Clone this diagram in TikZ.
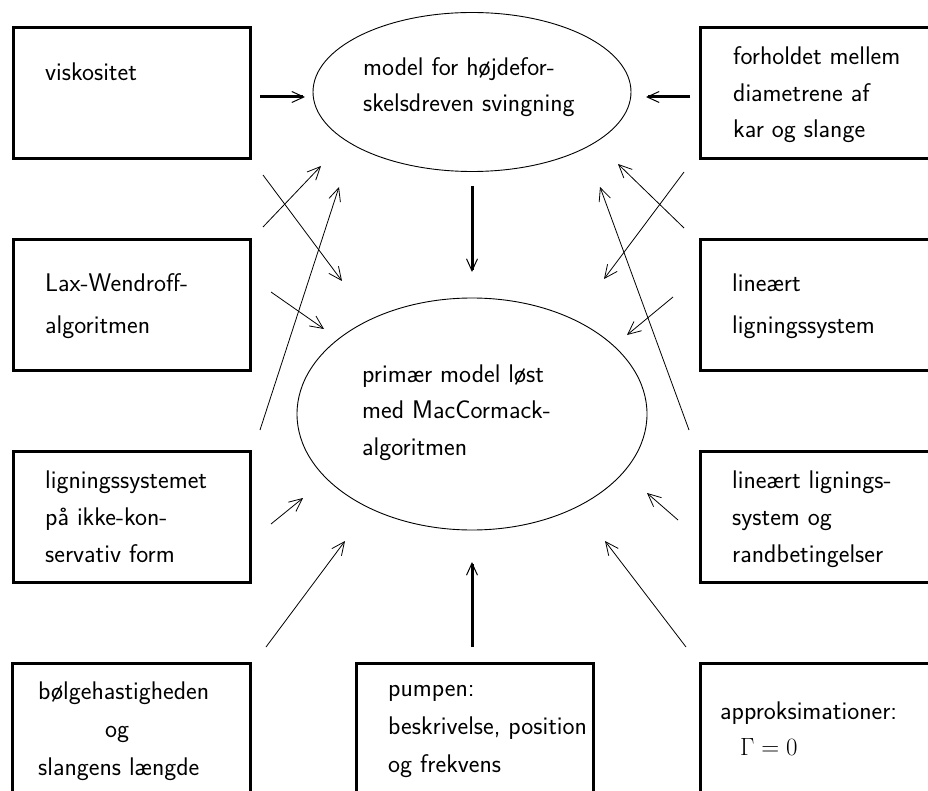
\documentclass[tikz,border=0pt]{standalone}
\usepackage{fontspec}
\usetikzlibrary{arrows.meta,shapes.geometric}
\begin{document}
\begin{tikzpicture}[x=1pt,y=-1pt,
  box/.style={draw, line width=3pt, rectangle, inner sep=0pt},
  oval/.style={draw, line width=0.9pt, ellipse, inner sep=0pt},
  lbl/.style={anchor=base west, inner sep=0pt, font=\sffamily\fontsize{25.5}{30}\selectfont\addfontfeatures{LetterSpace=2}},
  thinarrow/.style={line width=0.8pt, -{Straight Barb[length=13pt,width=12pt]}},
  thickarrow/.style={line width=3pt, -{Straight Barb[length=12pt,width=11pt,line width=1pt 0]}}]
\clip (0,0) rectangle (928,791);
\fill[white] (0,0) rectangle (928,791);

% boxes, left column
\node[box, minimum width=236.5pt, minimum height=131pt] (bvis) at (131.75,93.5) {};
\node[box, minimum width=236.5pt, minimum height=131pt] (blax) at (131.75,305) {};
\node[box, minimum width=236.5pt, minimum height=131pt] (blig) at (131.75,516.5) {};
% boxes, right column
\node[box, minimum width=260pt, minimum height=131pt] (bfor) at (830.5,93.5) {};
\node[box, minimum width=260pt, minimum height=131pt] (blin) at (830.5,305) {};
\node[box, minimum width=260pt, minimum height=131pt] (brand) at (830.5,516.5) {};
% boxes, bottom row
\node[box, minimum width=238pt, minimum height=160pt] (bbol) at (131.75,743) {};
\node[box, minimum width=237pt, minimum height=160pt] (bpum) at (474.5,743) {};
\node[box, minimum width=260pt, minimum height=160pt] (bapp) at (830.5,743) {};

% ellipses
\node[oval, minimum width=318pt, minimum height=159pt] (etop) at (472,92) {};
\node[oval, minimum width=350pt, minimum height=232pt] (emain) at (472,414) {};

% texts
\node[lbl] (t1) at (45,81) {viskositet};
\node[lbl] (t2a) at (363,76) {model for højdefor-};
\node[lbl] (t2b) at (363,112) {skelsdreven svingning};
\node[lbl] (t3a) at (733,65) {forholdet mellem};
\node[lbl] (t3b) at (733,102) {diametrene af};
\node[lbl] (t3c) at (733,138) {kar og slange};
\node[lbl] (t4a) at (45,292) {Lax-Wendroff-};
\node[lbl] (t4b) at (45,333) {algoritmen};
\node[lbl] (t5a) at (732,292) {lineært};
\node[lbl] (t5b) at (732,334) {ligningssystem};
\node[lbl] (t6a) at (362,382) {primær model løst};
\node[lbl] (t6b) at (362,418) {med MacCormack-};
\node[lbl] (t6c) at (362,455) {algoritmen};
\node[lbl] (t7a) at (45,488) {ligningssystemet};
\node[lbl] (t7b) at (45,525) {på ikke-kon-};
\node[lbl] (t7c) at (45,562) {servativ form};
\node[lbl] (t8a) at (732,488) {lineært lignings-};
\node[lbl] (t8b) at (732,525) {system og};
\node[lbl] (t8c) at (732,562) {randbetingelser};
\node[lbl] (t9a) at (38,699) {bølgehastigheden};
\node[lbl] (t9b) at (105,737) {og};
\node[lbl] (t9c) at (38,775) {slangens længde};
\node[lbl] (t10a) at (388,696) {pumpen:};
\node[lbl] (t10b) at (388,734) {beskrivelse, position};
\node[lbl] (t10c) at (388,772) {og frekvens};
\node[lbl] (t11a) at (720,719) {approksimationer:};
\node[lbl] (t11b) at (740,755) {$\Gamma = 0$};

% connector end points
\coordinate (s1) at (260,97);   \coordinate (e1) at (305,97);
\coordinate (s2) at (690,97);   \coordinate (e2) at (646,97);
\coordinate (s3) at (472,186);  \coordinate (e3) at (472,272);
\coordinate (s4) at (472,647);  \coordinate (e4) at (472,562);

\coordinate (a1s) at (263,175); \coordinate (a1e) at (342,281);
\coordinate (a2s) at (263,227); \coordinate (a2e) at (321,166);
\coordinate (a3s) at (260,430); \coordinate (a3e) at (339,187);
\coordinate (a4s) at (271,292); \coordinate (a4e) at (324,329);
\coordinate (a5s) at (271,524); \coordinate (a5e) at (303,498);
\coordinate (a6s) at (266,647); \coordinate (a6e) at (345,541);

\coordinate (b1s) at (684,172); \coordinate (b1e) at (604,279);
\coordinate (b2s) at (684,228); \coordinate (b2e) at (618,164);
\coordinate (b3s) at (689,430); \coordinate (b3e) at (600,187);
\coordinate (b4s) at (673,297); \coordinate (b4e) at (627,335);
\coordinate (b5s) at (678,520); \coordinate (b5e) at (647,493);
\coordinate (b6s) at (686,647); \coordinate (b6e) at (605,541);

% thick arrows
\draw[thickarrow] (s1) -- (e1);
\draw[thickarrow] (s2) -- (e2);
\draw[thickarrow] (s3) -- (e3);
\draw[thickarrow] (s4) -- (e4);

% thin arrows
\foreach \n in {a1,a2,a3,a4,a5,a6,b1,b2,b3,b4,b5,b6}
  \draw[thinarrow] (\n s) -- (\n e);
\end{tikzpicture}
\end{document}
